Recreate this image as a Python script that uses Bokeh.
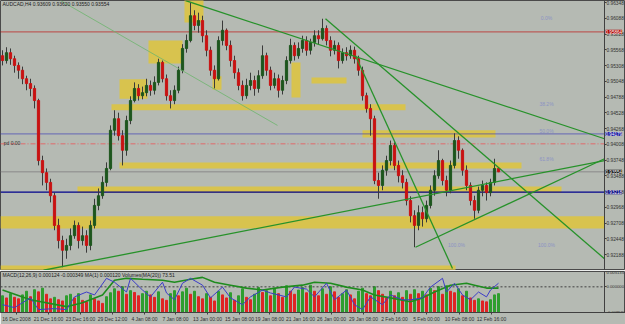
from bokeh.plotting import figure
from bokeh.models import (Range1d, FixedTicker, PrintfTickFormatter, Label,
                          ColumnDataSource, LinearAxis)
from bokeh.layouts import column
from bokeh.embed import file_html
from bokeh.resources import INLINE
from bokeh.core.properties import value

BG = "#B5BAB3"
FONT = "Liberation Sans"

# ---------------- price data (AUDCAD H4) ----------------
first_open = 0.9547
closes = [
    0.9539, 0.9552, 0.9542, 0.9531, 0.9523, 0.9509, 0.9501, 0.9493, 0.9473, 0.9374,
    0.9354, 0.9338, 0.9316, 0.9267, 0.9242, 0.9226, 0.9234, 0.9250, 0.9267, 0.9242,
    0.9250, 0.9234, 0.9267, 0.9300, 0.9316, 0.9338, 0.9361, 0.9424, 0.9443, 0.9415,
    0.9391, 0.9440, 0.9473, 0.9493, 0.9481, 0.9486, 0.9498, 0.9490, 0.9503, 0.9536,
    0.9509, 0.9481, 0.9473, 0.9490, 0.9523, 0.9559, 0.9572, 0.9613, 0.9597, 0.9605,
    0.9580, 0.9556, 0.9523, 0.9509, 0.9572, 0.9589, 0.9564, 0.9539, 0.9519, 0.9498,
    0.9481, 0.9498, 0.9506, 0.9493, 0.9514, 0.9547, 0.9523, 0.9498, 0.9509, 0.9490,
    0.9506, 0.9539, 0.9564, 0.9547, 0.9559, 0.9572, 0.9556, 0.9569, 0.9580, 0.9575,
    0.9592, 0.9572, 0.9556, 0.9564, 0.9539, 0.9552, 0.9547, 0.9556, 0.9542, 0.9523,
    0.9481, 0.9460, 0.9443, 0.9341, 0.9333, 0.9358, 0.9374, 0.9399, 0.9366, 0.9349,
    0.9338, 0.9308, 0.9283, 0.9267, 0.9288, 0.9278, 0.9300, 0.9325, 0.9349, 0.9374,
    0.9341, 0.9325, 0.9366, 0.9407, 0.9391, 0.9358, 0.9333, 0.9308, 0.9292, 0.9325,
    0.9333, 0.9321, 0.9338, 0.93609, 0.93554]
highs = [
    0.9556, 0.9561, 0.9559, 0.9547, 0.9536, 0.9529, 0.9514, 0.9509, 0.9498, 0.9476,
    0.9382, 0.9361, 0.9344, 0.9321, 0.9278, 0.9250, 0.9245, 0.9262, 0.9275, 0.9272,
    0.9265, 0.9259, 0.9275, 0.9311, 0.9328, 0.9348, 0.9371, 0.9432, 0.9457, 0.9453,
    0.9424, 0.9448, 0.9480, 0.9503, 0.9500, 0.9496, 0.9509, 0.9506, 0.9513, 0.9542,
    0.9539, 0.9516, 0.9490, 0.9498, 0.9529, 0.9566, 0.9582, 0.9635, 0.9622, 0.9618,
    0.9613, 0.9589, 0.9562, 0.9531, 0.9579, 0.9605, 0.9592, 0.9572, 0.9547, 0.9526,
    0.9506, 0.9509, 0.9519, 0.9514, 0.9523, 0.9564, 0.9552, 0.9529, 0.9519, 0.9516,
    0.9514, 0.9546, 0.9575, 0.9569, 0.9569, 0.9580, 0.9579, 0.9575, 0.9589, 0.9589,
    0.9608, 0.9597, 0.9579, 0.9572, 0.9569, 0.9559, 0.9561, 0.9564, 0.9562, 0.9547,
    0.9529, 0.9486, 0.9467, 0.9448, 0.9354, 0.9366, 0.9382, 0.9407, 0.9404, 0.9374,
    0.9358, 0.9344, 0.9315, 0.9292, 0.9300, 0.9298, 0.9308, 0.9333, 0.9358, 0.9391,
    0.9377, 0.9349, 0.9374, 0.9419, 0.9414, 0.9394, 0.9366, 0.9338, 0.9316, 0.9331,
    0.9341, 0.9338, 0.9344, 0.9377, 0.93620]
lows = [
    0.9531, 0.9534, 0.9532, 0.9519, 0.9509, 0.9500, 0.9490, 0.9480, 0.9460, 0.9366,
    0.9333, 0.9325, 0.9305, 0.9259, 0.9229, 0.9198, 0.9212, 0.9226, 0.9245, 0.9229,
    0.9234, 0.9222, 0.9226, 0.9262, 0.9292, 0.9311, 0.9331, 0.9358, 0.9415, 0.9407,
    0.9366, 0.9382, 0.9434, 0.9470, 0.9473, 0.9475, 0.9480, 0.9481, 0.9483, 0.9498,
    0.9503, 0.9473, 0.9460, 0.9467, 0.9485, 0.9518, 0.9552, 0.9569, 0.9589, 0.9585,
    0.9569, 0.9546, 0.9514, 0.9493, 0.9506, 0.9564, 0.9556, 0.9529, 0.9509, 0.9490,
    0.9473, 0.9476, 0.9490, 0.9481, 0.9486, 0.9509, 0.9514, 0.9490, 0.9493, 0.9478,
    0.9483, 0.9500, 0.9534, 0.9539, 0.9542, 0.9552, 0.9547, 0.9549, 0.9562, 0.9566,
    0.9572, 0.9564, 0.9546, 0.9549, 0.9526, 0.9534, 0.9539, 0.9542, 0.9534, 0.9514,
    0.9473, 0.9453, 0.9415, 0.9335, 0.9311, 0.9325, 0.9349, 0.9366, 0.9358, 0.9338,
    0.9328, 0.9300, 0.9272, 0.9231, 0.9259, 0.9265, 0.9272, 0.9295, 0.9316, 0.9344,
    0.9333, 0.9315, 0.9320, 0.9361, 0.9377, 0.9349, 0.9325, 0.9300, 0.9278, 0.9287,
    0.9315, 0.9308, 0.9315, 0.9333, 0.93550]

volumes = [55, 48, 62, 50, 45, 58, 70, 52, 75, 68, 80, 60, 45, 50, 42, 38,
           55, 60, 48, 62, 40, 35, 58, 45, 38, 30, 52, 65, 78, 70, 85, 60, 72,
           66, 55, 62, 70, 58, 50, 68, 45, 40, 62, 72, 55, 68, 80, 60, 70, 52,
           45, 62, 50, 38, 70, 58, 48, 65, 40, 55, 78, 50, 42, 60, 82,
           66, 72, 55, 80, 62, 50, 88, 70, 60, 74,
           82, 65, 90, 70, 55, 78, 60, 85, 68, 50,
           62, 75, 58, 45, 70, 80, 62, 55, 85, 72,
           60, 48, 70, 55, 65, 50, 72, 60,
           75, 62, 70, 58, 80, 72, 85, 60, 88, 70,
           65, 78, 55, 70, 48, 40, 45, 38, 35, 42, 58, 62]

macd_x = [0, 3, 7, 9, 13, 16, 18, 21, 23, 26, 28, 31, 32, 35, 37, 40, 41, 43, 45, 47,
          50, 52, 55, 57, 60, 62, 65, 67, 71, 73, 76, 78, 81, 83, 86, 88, 90, 92, 95,
          97, 100, 102, 105, 107, 110, 111, 113, 115, 117, 119, 121, 122, 124]
macd_v = [-0.00597, -0.00695, -0.00369, -0.00761, -0.00728, -0.00761, -0.00336,
          -0.00173, -0.00271, 0.00285, 0.00154, -0.00173, 0.00285, -0.00107,
          -0.00336, 0.00154, -0.00205, -0.00434, 0.00121, 0.00285, 0.00056,
          -0.00369, -0.00009, -0.00369, -0.00597, -0.00336, -0.00107, -0.00205,
          -0.00336, -0.00009, -0.00075, -0.00336, 0.00121, -0.00434, -0.00107,
          -0.00597, -0.00761, -0.00336, -0.00597, -0.00271, -0.00434, -0.00434,
          -0.00369, -0.00009, 0.00285, -0.00173, 0.00121, -0.00271, -0.00434,
          -0.00173, -0.00336, -0.00107, 0.00121]
signal_x = [0, 7, 16, 20, 25, 28, 31, 35, 40, 43, 47, 50, 53, 57, 61, 65, 70, 75,
            78, 82, 86, 90, 93, 97, 102, 105, 108, 112, 116, 118, 121, 124]
signal_v = [-0.00107, -0.00434, -0.00663, -0.00532, -0.00271, 0.00219, 0.00285,
            0.00252, 0.00219, 0.00154, 0.00252, 0.00317, 0.00154, 0.00056, -0.00042,
            -0.00107, -0.00009, 0.00056, 0.00154, 0.00121, -0.00009, -0.00107,
            -0.00271, -0.00369, -0.00499, -0.00369, -0.00173, 0.00056, 0.00121,
            0.00056, -0.00042, -0.00042]

price_ticks = [0.92188, 0.92448, 0.92708, 0.92968, 0.93228, 0.93488, 0.93748, 0.94008,
               0.94268, 0.94528, 0.94788, 0.95048, 0.95308, 0.95568, 0.95828, 0.96088,
               0.96348]
macd_ticks = [0.005135, 0.0, -0.008587]
date_tick_bars = [3.5, 11.5, 19.5, 27.5, 35.5, 43.25, 51.25, 59.25, 66.75, 74.5,
                  82.25, 90.25, 98.0, 106.0, 114.25, 122.25]
date_labels = ["16 Dec 2008", "21 Dec 16:00", "23 Dec 16:00", "29 Dec 12:00",
               "4 Jan 08:00", "7 Jan 08:00", "13 Jan 00:00", "15 Jan 08:00",
               "19 Jan 08:00", "21 Jan 16:00", "26 Jan 00:00", "29 Jan 08:00",
               "2 Feb 16:00", "5 Feb 00:00", "10 Feb 08:00", "12 Feb 16:00"]

# the chart area ends at the price scale, which sits at this bar position
SCALE_AT = 150.5

# zones (support / resistance rectangles)
zone_left = [36.5, 29.25, 45.5, 52.5, 72.25, 77.25, 27.25, 90.0, 29.25, 18.75, -0.5, -0.5]
zone_right = [45.0, 36.25, 50.25, 54.75, 74.5, 86.0, 100.75, 123.25, 129.75, 139.75, SCALE_AT, 113.25]
zone_top = [0.9572, 0.9508, 0.9640, 0.9513, 0.9536, 0.9511, 0.9467, 0.9424, 0.9371, 0.9331, 0.9282, 0.9201]
zone_bottom = [0.9534, 0.9476, 0.9602, 0.9491, 0.9478, 0.9501, 0.9457, 0.9412, 0.9361, 0.9321, 0.9262, 0.9194]

# trend lines
trend_x0 = [45.75, 80.75, 88.25, 10.25, 103.25]
trend_y0 = [0.9638, 0.9608, 0.9547, 0.9193, 0.9231]
trend_x1 = [SCALE_AT, SCALE_AT, 112.5, SCALE_AT, SCALE_AT]
trend_y1 = [0.9410, 0.9212, 0.9196, 0.9374, 0.9377]
thin_x = [14.5, 68.75]
thin_y = [0.9638, 0.9432]

fib_x = [136, 136, 136, 136, 113.5, 136]
fib_y = [0.9610, 0.9467, 0.9422, 0.9377, 0.9234, 0.9234]
fib_text = ["0.0%", "38.2%", "50.0%", "61.8%", "100.0%", "100.0%"]

red_level = 0.95864
blue_level_1 = 0.94179
pd_level = 0.94016
blue_level_2 = 0.93218

# ---------------- main chart ----------------
n = len(closes)
bars = list(range(n))
opens = [first_open] + closes[:-1]
UP, DN = "#1d561d", "#c81212"
src = ColumnDataSource(dict(
    x=bars, h=highs, l=lows,
    top=[max(o, c) for o, c in zip(opens, closes)],
    bot=[min(o, c) for o, c in zip(opens, closes)],
    col=[UP if c >= o else DN for o, c in zip(opens, closes)]))

XR = Range1d(-0.5, 155.75)


def style_axis(ax, size="5px"):
    ax.major_label_text_font_size = size
    ax.major_label_text_font = FONT
    ax.major_label_text_color = "#303030"
    ax.major_tick_out = 2
    ax.major_tick_in = 0
    ax.minor_tick_out = 0
    ax.minor_tick_in = 0
    ax.major_label_standoff = 0
    ax.axis_line_color = "#404040"
    ax.major_tick_line_color = "#404040"


p = figure(width=625, height=270, x_range=XR, y_range=Range1d(0.91926, 0.96381),
           output_backend="svg", toolbar_location=None, x_axis_location=None,
           y_axis_location=None, min_border_left=0, min_border_top=0,
           min_border_bottom=0, min_border_right=0,
           background_fill_color=BG, border_fill_color=BG,
           outline_line_color="#4a4a4a")
p.grid.visible = False
ya = LinearAxis(fixed_location=SCALE_AT, ticker=FixedTicker(ticks=price_ticks),
                formatter=PrintfTickFormatter(format="%.5f"))
style_axis(ya, "4.8px")
p.add_layout(ya, "right")

p.quad(left=zone_left, right=zone_right, top=zone_top, bottom=zone_bottom,
       fill_color="#D8C34E", line_color=None)

p.line([-0.5, SCALE_AT], [red_level, red_level], line_color="#C00000",
       line_dash="1 1", line_width=1.2)
p.line([-0.5, SCALE_AT], [blue_level_1, blue_level_1], line_color="#3434B8",
       line_dash="1 1", line_width=1.2)
p.line([-0.5, SCALE_AT], [pd_level, pd_level], line_color="#E06A6A",
       line_dash="5 2 1 2", line_width=1)
p.line([-0.5, SCALE_AT], [closes[-1], closes[-1]], line_color="#8A8A8A", line_width=1)
p.line([-0.5, SCALE_AT], [blue_level_2, blue_level_2], line_color="#00008C",
       line_width=1.3)

p.segment(x0="x", y0="h", x1="x", y1="l", source=src, line_color="#3a3a3a", line_width=1)
p.vbar(x="x", width=0.55, top="top", bottom="bot", source=src,
       fill_color="col", line_color="col")

p.segment(x0=trend_x0, y0=trend_y0, x1=trend_x1, y1=trend_y1,
          line_color="#27922A", line_width=1.3)
p.line(thin_x, thin_y, line_color="#6DB56D", line_width=0.8)

p.text(x=fib_x, y=fib_y, text=fib_text, text_font=value(FONT), text_font_size="5px",
       text_color="#8C93C4", text_align="center", text_baseline="middle")
p.text(x=[0.3], y=[pd_level + 0.00015], text=["pd 0.00"], text_font=value(FONT),
       text_font_size="5px", text_color="#303030", text_baseline="middle")

title = "AUDCAD,H4 %.5f %.5f %.5f %.5f" % (opens[-1], highs[-1], lows[-1], closes[-1])
p.add_layout(Label(x=0, y=0.96375, text=title, text_font=FONT, text_font_size="5px",
                   text_color="#202020", text_baseline="top"))

for lvl, col in [(red_level, "#B00000"), (blue_level_1, "#1C1CA0"),
                 (closes[-1], "#101010"), (blue_level_2, "#00007C")]:
    p.add_layout(Label(x=SCALE_AT, y=lvl, x_offset=1, text="%.5f" % lvl, text_font=FONT,
                       text_font_size="4.6px", text_color="white", text_baseline="middle",
                       background_fill_color=col))

# ---------------- MACD / volume panel ----------------
vcol = ["#2E9E2E"] + ["#2E9E2E" if volumes[i] >= volumes[i - 1] else "#E02424"
                      for i in range(1, n)]
m = figure(width=625, height=54, x_range=XR, y_range=Range1d(-0.008587, 0.005135),
           output_backend="svg", toolbar_location=None, y_axis_location=None,
           x_axis_location="below", min_border_left=0, min_border_top=1,
           min_border_bottom=1, min_border_right=0,
           background_fill_color=BG, border_fill_color=BG,
           outline_line_color="#4a4a4a")
m.grid.visible = False
m.extra_y_ranges = {"vol": Range1d(0, 135)}
m.vbar(x=bars, top=volumes, bottom=0, width=0.5, y_range_name="vol",
       fill_color=vcol, line_color=vcol)
m.line([-0.5, SCALE_AT], [0, 0], line_color="#404040", line_dash="2 2", line_width=1)
m.line(signal_x, signal_v, line_color="#1E8C1E", line_width=1.6)
m.line(macd_x, macd_v, line_color="#3C3CC8", line_width=1)
m.add_layout(Label(x=0, y=0.0049, text="MACD(12,26,9) 0.000124 -0.000349 MA(1) 0.000120 Volumes(MA(20)) 73.51",
                   text_font=FONT, text_font_size="5px", text_color="#202020",
                   text_baseline="top"))

my = LinearAxis(fixed_location=SCALE_AT, ticker=FixedTicker(ticks=macd_ticks),
                formatter=PrintfTickFormatter(format="%.6f"))
style_axis(my, "4.2px")
m.add_layout(my, "right")
mx = m.xaxis[0]
mx.ticker = FixedTicker(ticks=date_tick_bars)
mx.major_label_overrides = {t: lab for t, lab in zip(date_tick_bars, date_labels)}
style_axis(mx, "5px")
mx.major_label_standoff = 1

layout = column(p, m, spacing=0)
open("out.html", "w").write(file_html(layout, INLINE))
